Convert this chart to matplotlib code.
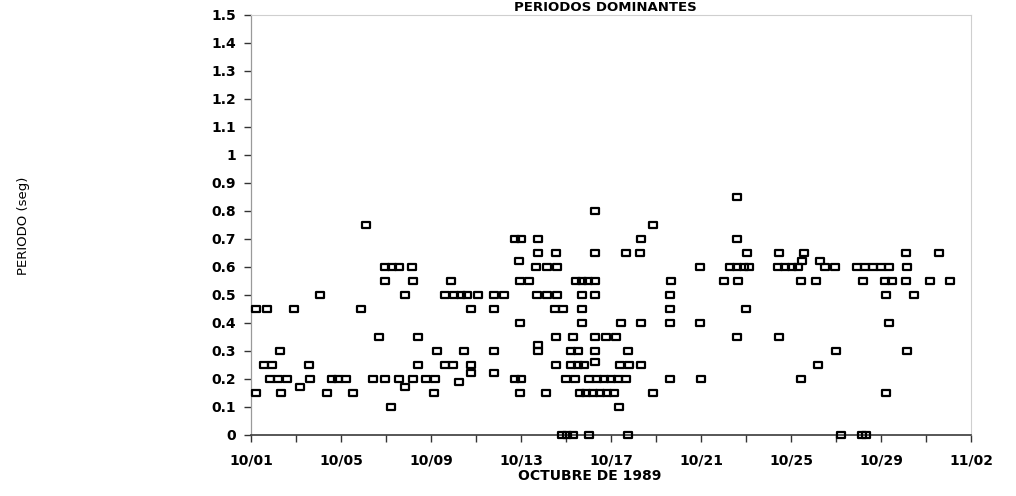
import numpy as np
import matplotlib
matplotlib.use("Agg")
import matplotlib.pyplot as plt
import matplotlib.dates as mdates
from matplotlib.path import Path
from matplotlib.markers import MarkerStyle
from datetime import datetime

# Fractional day of October 1989 at which each dominant period (s) was picked,
# grouped by period value.
dias_000 = [14.8, 15.06, 15.33, 16.0, 17.74, 27.2, 28.15, 28.35]
dias_010 = [7.2, 17.34]
dias_015 = [1.22, 2.33, 4.39, 5.55, 9.13, 12.96, 14.13, 15.6, 15.91, 16.22,
            16.49, 16.8, 17.12, 18.86, 29.2]
dias_017 = [3.19, 7.83]
dias_019 = [10.24]
dias_020 = [1.85, 2.2, 2.6, 3.6, 4.62, 4.88, 5.2, 6.4, 6.94, 7.56, 8.19,
            8.77, 9.17, 12.74, 13.0, 15.02, 15.38, 16.04, 16.36, 16.67,
            16.98, 17.29, 17.65, 19.62, 21.0, 25.46]
dias_022 = [10.78, 11.8]
dias_025 = [1.58, 1.94, 3.59, 8.41, 9.62, 9.97, 10.78, 14.57, 15.24, 15.55,
            15.8, 17.38, 17.79, 18.32, 26.18]
dias_026 = [16.31]
dias_030 = [2.29, 9.26, 10.46, 11.8, 13.77, 15.2, 15.55, 16.31, 17.74,
            26.98, 30.15]
dias_032 = [13.77]
dias_035 = [6.71, 8.41, 14.57, 15.29, 16.31, 16.76, 17.21, 22.61, 24.48]
dias_040 = [12.96, 15.69, 17.43, 18.32, 19.62, 20.96, 29.35]
dias_045 = [1.22, 1.71, 2.92, 5.87, 10.78, 11.8, 14.53, 14.88, 15.69, 19.62,
            23.0]
dias_050 = [4.08, 7.83, 9.62, 10.02, 10.33, 10.6, 11.09, 11.8, 12.25, 13.72,
            14.17, 14.62, 15.69, 16.31, 19.62, 29.21, 30.46]
dias_055 = [6.94, 8.19, 9.9, 12.96, 13.37, 15.43, 15.69, 15.96, 16.27, 19.67,
            22.03, 22.65, 25.46, 26.13, 28.19, 29.17, 29.48, 30.11, 31.18,
            32.07]
dias_060 = [6.94, 7.25, 7.56, 8.17, 13.68, 14.17, 14.6, 20.96, 22.3, 22.6,
            22.9, 23.14, 24.44, 24.75, 25.06, 25.33, 26.49, 26.94, 27.92,
            28.28, 28.63, 28.99, 29.35, 30.15]
dias_062 = [12.93, 25.5, 26.31]
dias_065 = [13.75, 14.57, 16.31, 17.65, 18.28, 23.05, 24.48, 25.58, 30.11,
            31.58]
dias_070 = [12.74, 13.0, 13.77, 18.34, 22.61]
dias_075 = [6.13, 18.86]
dias_080 = [16.31]
dias_085 = [22.61]

periodos = [0.0, 0.10, 0.15, 0.17, 0.19, 0.20, 0.22, 0.25, 0.26, 0.30, 0.32,
            0.35, 0.40, 0.45, 0.50, 0.55, 0.60, 0.62, 0.65, 0.70, 0.75, 0.80,
            0.85]
dias_por_periodo = [dias_000, dias_010, dias_015, dias_017, dias_019,
                    dias_020, dias_022, dias_025, dias_026, dias_030,
                    dias_032, dias_035, dias_040, dias_045, dias_050,
                    dias_055, dias_060, dias_062, dias_065, dias_070,
                    dias_075, dias_080, dias_085]

etiquetas_x = ["10/01", "10/05", "10/09", "10/13", "10/17", "10/21",
               "10/25", "10/29", "11/02"]
valores_y = [0.0, 0.1, 0.2, 0.3, 0.4, 0.5, 0.6, 0.7, 0.8, 0.9, 1.0, 1.1,
             1.2, 1.3, 1.4, 1.5]

inicio = mdates.date2num(datetime(1989, 10, 1))


def a_fecha(dias):
    return inicio + np.asarray(dias, dtype=float) - 1.0


# Hollow, slightly wide rectangle marker with rounded corners
marcador = MarkerStyle(
    Path([(-1, -0.75), (1, -0.75), (1, 0.75), (-1, 0.75), (-1, -0.75)],
         [Path.MOVETO, Path.LINETO, Path.LINETO, Path.LINETO,
          Path.CLOSEPOLY]),
    joinstyle="round")

fig = plt.figure(figsize=(10.16, 4.96), dpi=100)
fig.patch.set_facecolor("white")
ax = fig.add_axes([251 / 1016, 61 / 496, 720 / 1016, 420 / 496])

for periodo, dias in zip(periodos, dias_por_periodo):
    ax.plot(a_fecha(dias), np.full(len(dias), periodo), linestyle="none",
            marker=marcador, markersize=5.8, markerfacecolor="none",
            markeredgecolor="black", markeredgewidth=1.6, clip_on=False,
            zorder=3)

ax.set_xlim(inicio, inicio + 32)
ax.set_ylim(0, 1.5)

fuente_ticks = dict(family="DejaVu Sans", weight="bold", size=10)

# Labelled ticks every 4 days, plain ticks in between
ax.set_xticks(a_fecha(np.arange(1, 34, 4)))
ax.set_xticklabels(etiquetas_x, **fuente_ticks)
ax.set_xticks(a_fecha(np.arange(3, 34, 4)), minor=True)
ax.set_yticks(valores_y)
ax.set_yticklabels([f"{v:g}" for v in valores_y], **fuente_ticks)

ax.tick_params(axis="both", which="both", direction="out", length=5,
               width=1.0, color="#333333")
ax.tick_params(axis="x", which="both", pad=8)
ax.tick_params(axis="y", pad=6)

ax.spines["left"].set_color("#9a9a9a")
ax.spines["left"].set_linewidth(0.9)
ax.spines["bottom"].set_color("#3a3a3a")
ax.spines["bottom"].set_linewidth(1.2)
for lado in ("top", "right"):
    ax.spines[lado].set_color("#cfcfcf")
    ax.spines[lado].set_linewidth(0.8)

fig.text(605 / 1016, 1 - 11 / 496, "PERIODOS DOMINANTES", ha="center",
         va="baseline", family="DejaVu Sans", weight="bold", size=9.5)
fig.text(590 / 1016, 1 - 476 / 496, "OCTUBRE DE 1989", ha="center",
         va="center", family="DejaVu Sans", weight="bold", size=10)
fig.text(24 / 1016, 1 - 226 / 496, "PERIODO (seg)", ha="center",
         va="center", rotation=90, family="DejaVu Sans", size=9.5)

fig.savefig("out.png", dpi=100, facecolor="white")
